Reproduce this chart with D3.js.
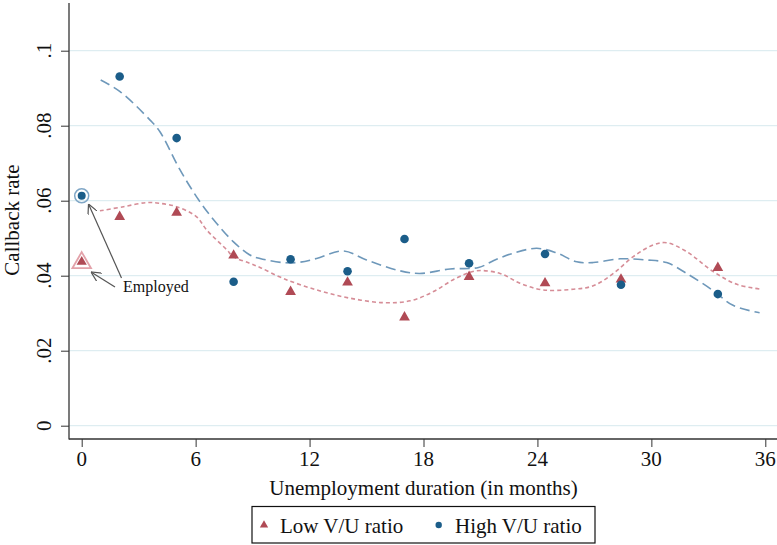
<!DOCTYPE html>
<html>
<head>
<meta charset="utf-8">
<script src="https://cdn.jsdelivr.net/npm/d3@7"></script>
<style>
  body { margin: 0; background: #fff; }
  text { font-family: "Liberation Serif", "Times New Roman", serif; fill: #111; }
</style>
</head>
<body>
<div id="chart"></div>
<script>
// Markers: unemployment duration (months) and callback rate
const lowMonths = [2, 5, 8, 11, 14, 17, 20.4, 24.4, 28.4, 33.5];
const lowRates = [0.0557, 0.0568, 0.0454, 0.0357, 0.0382, 0.0289, 0.0397, 0.0380, 0.0390, 0.0421];
const highMonths = [2, 5, 8, 11, 14, 17, 20.4, 24.4, 28.4, 33.5];
const highRates = [0.0931, 0.0767, 0.0384, 0.0444, 0.0412, 0.0498, 0.0433, 0.0458, 0.0376, 0.0351];

// Employed benchmark (shown at month 0)
const employedLow = 0.0437;
const employedHigh = 0.0613;

// Smoothed fits
const lowFitMonths = [0.96, 2.2, 3.42, 4.12, 5.0, 6.05, 6.58, 7.64, 7.98, 8.86, 9.39, 10.6, 12.37, 14.13, 15.9, 17.3, 18.5, 19.7, 20.8, 22.03, 23.08, 24.3, 25.9, 26.94, 28.0, 29.05, 30.1, 30.8, 31.86, 33.26, 34.5, 35.8];
const lowFitRates = [0.0573, 0.0584, 0.0595, 0.0593, 0.0584, 0.0557, 0.0522, 0.0469, 0.0451, 0.0433, 0.0422, 0.0393, 0.0362, 0.0340, 0.0328, 0.0333, 0.0357, 0.0393, 0.0413, 0.0406, 0.0380, 0.0362, 0.0364, 0.0373, 0.0406, 0.0451, 0.0482, 0.0488, 0.0464, 0.0411, 0.0377, 0.0364];
const highFitMonths = [1.0, 2.02, 3.6, 4.12, 5.18, 6.23, 7.1, 7.98, 8.86, 9.39, 10.6, 11.5, 12.37, 13.78, 15.0, 16.76, 17.8, 19.4, 20.9, 21.85, 22.73, 23.96, 25.0, 26.07, 26.94, 28.35, 29.75, 30.8, 31.86, 33.26, 34.3, 35.7];
const highFitRates = [0.0922, 0.0891, 0.0815, 0.0784, 0.0682, 0.0597, 0.0540, 0.0491, 0.0455, 0.0446, 0.0435, 0.0436, 0.0446, 0.0466, 0.0442, 0.0413, 0.0406, 0.0418, 0.0422, 0.0444, 0.0460, 0.0473, 0.0461, 0.0437, 0.0435, 0.0445, 0.0442, 0.0435, 0.0406, 0.0360, 0.0321, 0.0301];

const xTicks = [0, 6, 12, 18, 24, 30, 36];
const yTicks = [0, 0.02, 0.04, 0.06, 0.08, 0.1];
const yTickLabels = ["0", ".02", ".04", ".06", ".08", ".1"];

const redDot = "#b04a55", blueDot = "#1b5d89";
const redLine = "#d68d97", blueLine = "#6e98ba";

const W = 777, H = 545;
const svg = d3.select("#chart").append("svg").attr("width", W).attr("height", H);

const x = d3.scaleLinear().domain([0, 36]).range([81.7, 765.3]);
const y = d3.scaleLinear().domain([0, 0.1]).range([425.7, 50.7]);
const axisX = 69, axisY = 439;

// Gridlines
svg.append("g").selectAll("line").data(yTicks).enter().append("line")
    .attr("x1", axisX).attr("x2", W)
    .attr("y1", d => y(d)).attr("y2", d => y(d))
    .attr("stroke", "#deedf1").attr("stroke-width", 1.3);

// Y axis
const gy = svg.append("g").attr("transform", `translate(${axisX},0)`)
    .call(d3.axisLeft(y).tickValues(yTicks).tickSize(8).tickSizeOuter(0).tickFormat(""));
gy.select(".domain").remove();
gy.selectAll("line").attr("stroke", "#333");
svg.append("line").attr("x1", axisX).attr("x2", axisX).attr("y1", 3).attr("y2", axisY + 0.5)
    .attr("stroke", "#333").attr("stroke-width", 1.3);
svg.append("g").selectAll("text").data(yTicks).enter().append("text")
    .attr("transform", d => `translate(51,${y(d)}) rotate(-90)`)
    .attr("text-anchor", "middle").style("font-size", "21px")
    .text((d, i) => yTickLabels[i]);

// X axis
const gx = svg.append("g").attr("transform", `translate(0,${axisY})`)
    .call(d3.axisBottom(x).tickValues(xTicks).tickSize(8).tickSizeOuter(0).tickFormat(""));
gx.select(".domain").remove();
gx.selectAll("line").attr("stroke", "#333");
svg.append("line").attr("x1", axisX).attr("x2", W).attr("y1", axisY).attr("y2", axisY)
    .attr("stroke", "#333").attr("stroke-width", 1.3);
svg.append("g").selectAll("text").data(xTicks).enter().append("text")
    .attr("x", d => x(d)).attr("y", 466)
    .attr("text-anchor", "middle").style("font-size", "21px")
    .text(d => d);

// Axis titles
svg.append("text").attr("x", 423.5).attr("y", 495)
    .attr("text-anchor", "middle").style("font-size", "21px")
    .text("Unemployment duration (in months)");
svg.append("text").attr("transform", "translate(19,220) rotate(-90)")
    .attr("text-anchor", "middle").style("font-size", "21px")
    .text("Callback rate");

// Smoothed fits
const line = d3.line().x(d => x(d[0])).y(d => y(d[1])).curve(d3.curveCatmullRom);
svg.append("path").datum(d3.zip(lowFitMonths, lowFitRates)).attr("d", line)
    .attr("fill", "none").attr("stroke", redLine).attr("stroke-width", 1.6)
    .attr("stroke-dasharray", "4,3");
svg.append("path").datum(d3.zip(highFitMonths, highFitRates)).attr("d", line)
    .attr("fill", "none").attr("stroke", blueLine).attr("stroke-width", 1.6)
    .attr("stroke-dasharray", "10,5");

const tri = d3.symbol().type(d3.symbolTriangle);

// Employed markers
svg.append("path").attr("d", tri.size(150)())
    .attr("transform", `translate(${x(0)},${y(employedLow) + 1})`)
    .attr("fill", "none").attr("stroke", "#e3a2aa").attr("stroke-width", 1.8);
svg.append("path").attr("d", tri.size(45)())
    .attr("transform", `translate(${x(0)},${y(employedLow)})`)
    .attr("fill", redDot);
svg.append("circle").attr("cx", x(0)).attr("cy", y(employedHigh)).attr("r", 7)
    .attr("fill", "none").attr("stroke", "#7fa6c6").attr("stroke-width", 1.5);
svg.append("circle").attr("cx", x(0)).attr("cy", y(employedHigh)).attr("r", 4)
    .attr("fill", blueDot);

// Series markers
svg.append("g").selectAll("path").data(d3.zip(lowMonths, lowRates)).enter().append("path")
    .attr("d", tri.size(50)())
    .attr("transform", d => `translate(${x(d[0])},${y(d[1])})`)
    .attr("fill", redDot);
svg.append("g").selectAll("circle").data(d3.zip(highMonths, highRates)).enter().append("circle")
    .attr("cx", d => x(d[0])).attr("cy", d => y(d[1])).attr("r", 4.3)
    .attr("fill", blueDot);

// Annotation
const defs = svg.append("defs");
defs.append("marker").attr("id", "arrow").attr("viewBox", "0 0 10 10")
    .attr("refX", 10).attr("refY", 5).attr("markerWidth", 10).attr("markerHeight", 10)
    .attr("markerUnits", "userSpaceOnUse").attr("orient", "auto")
    .append("path").attr("d", "M0,0 L10,5 L0,10").attr("fill", "none")
    .attr("stroke", "#555").attr("stroke-width", 1.2);
svg.append("line").attr("x1", 121.5).attr("y1", 278).attr("x2", 88.5).attr("y2", 204)
    .attr("stroke", "#555").attr("stroke-width", 1.2).attr("marker-end", "url(#arrow)");
svg.append("line").attr("x1", 115).attr("y1", 287).attr("x2", 91).attr("y2", 272)
    .attr("stroke", "#555").attr("stroke-width", 1.2).attr("marker-end", "url(#arrow)");
svg.append("text").attr("x", 123).attr("y", 291.5).style("font-size", "16px").text("Employed");

// Legend
svg.append("rect").attr("x", 252).attr("y", 506.5).attr("width", 343).attr("height", 36.5)
    .attr("fill", "#fff").attr("stroke", "#111").attr("stroke-width", 1.2);
svg.append("path").attr("d", tri.size(30)()).attr("transform", "translate(264,525)").attr("fill", redDot);
svg.append("text").attr("x", 280).attr("y", 532.5).style("font-size", "21px").text("Low V/U ratio");
svg.append("circle").attr("cx", 438.7).attr("cy", 525).attr("r", 3.2).attr("fill", blueDot);
svg.append("text").attr("x", 455).attr("y", 532.5).style("font-size", "21px").text("High V/U ratio");
</script>
</body>
</html>
